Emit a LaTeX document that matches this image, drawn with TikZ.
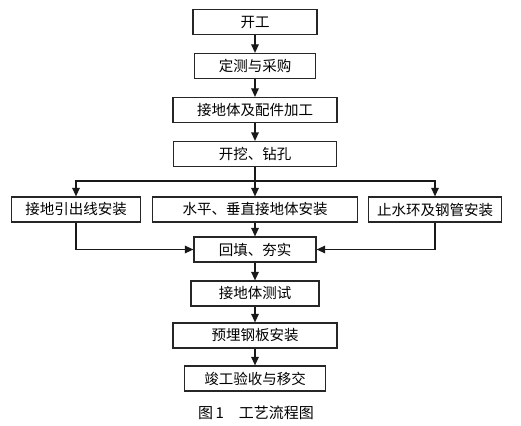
\documentclass[tikz,border=0pt]{standalone}
\usepackage{fontspec}
\newfontfamily\cjk{Noto Sans CJK SC}
\usepackage{tikz}
\usetikzlibrary{shapes.geometric, arrows, arrows.meta}

\begin{document}
\begin{tikzpicture}[x=1pt, y=-1pt, node distance=44pt, font=\cjk\fontsize{14.5}{16}\selectfont]
		\tikzstyle{process} = [rectangle, minimum height=25pt, text centered, inner sep=0pt, draw=black!85, line width=1.2pt, fill=white]
		
		\tikzstyle{arrow} = [->,>= {Triangle[length=8.5pt, width=7.5pt]}, line width=1.2pt, draw=black!90]
		
		\useasboundingbox (0,0) rectangle (521,425);
		
		% Main column
		\node (start) [process, minimum width=124pt] at (255,22) {开工};
		\node (survey) [process, minimum width=121pt, below of = start] {定测与采购};
		\node (making) [process, minimum width=164pt, below of = survey] {接地体及配件加工};
		\node (dig) [process, minimum width=163pt, below of = making] {开挖、钻孔};
		
		% Three parallel works
		\node (mid) [process, minimum width=205pt, below of = dig, yshift=-11.5pt] {水平、垂直接地体安装};
		\node (lead) [process, minimum width=129pt, below of = dig, yshift=-11.5pt, xshift=-179pt] {接地引出线安装};
		\node (ring) [process, minimum width=133pt, below of = dig, yshift=-11.5pt, xshift=180pt] {止水环及钢管安装};
		
		% After the parallel works
		\node (fill) [process, minimum width=122pt, below of = mid, yshift=4pt] {回填、夯实};
		\node (test) [process, minimum width=128pt, below of = fill] {接地体测试};
		\node (plate) [process, minimum width=164pt, below of = test, yshift=2pt] {预埋钢板安装};
		\node (final) [process, minimum width=141pt, below of = plate, yshift=1pt] {竣工验收与移交};
		
		\node (caption) at (256,413) {\fontsize{15}{17}\selectfont 图\,1\quad 工艺流程图};
		
		% Arrows
		\coordinate (split) at (dig.south |- 0,181);
		\draw [arrow] (start) -- (survey);
		\draw [arrow] (survey) -- (making);
		\draw [arrow] (making) -- (dig);
		\draw [arrow] (dig) -- (mid);
		\draw [arrow] (split) -| (lead.north);
		\draw [arrow] (split) -| (ring.north);
		\draw [arrow] (mid) -- (fill);
		\draw [arrow] (lead.south) |- (fill.west);
		\draw [arrow] (ring.south) |- (fill.east);
		\draw [arrow] (fill) -- (test);
		\draw [arrow] (test) -- (plate);
		\draw [arrow] (plate) -- (final);
	\end{tikzpicture}
\end{document}
